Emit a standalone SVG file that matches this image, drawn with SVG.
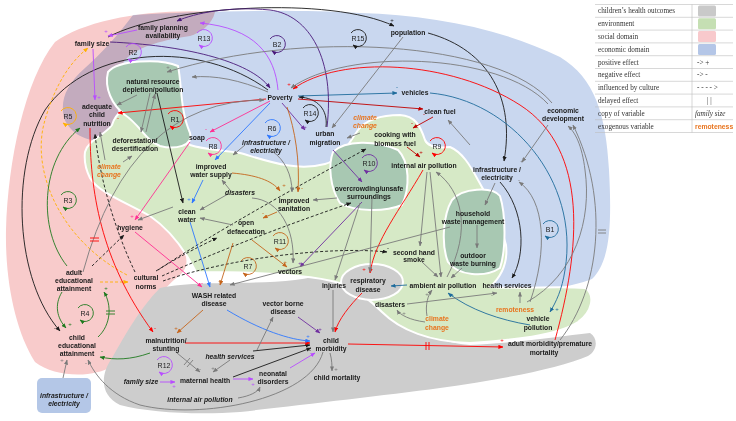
<svg xmlns="http://www.w3.org/2000/svg" width="736" height="421" viewBox="0 0 736 421">
<style>
.n{font-family:"Liberation Sans",Arial,sans-serif;font-size:6.8px;font-weight:bold;fill:#1a1a1a;text-anchor:middle}
.it{font-style:italic}
.or{fill:#e8741e}
.lp{font-family:"Liberation Sans",Arial,sans-serif;font-size:7px;fill:#222;text-anchor:middle}
.sg{font-family:"Liberation Sans",Arial,sans-serif;font-size:6px;text-anchor:middle}
.lg{font-family:"Liberation Serif","Times New Roman",serif;font-size:7.2px;fill:#333}
#connectors path,#loops path{fill:none;stroke-width:0.9}
.k{stroke:#1a1a1a;marker-end:url(#mk)}
.kd{stroke:#1a1a1a;stroke-dasharray:3 2;marker-end:url(#mk)}
.g{stroke:#7a7a7a;marker-end:url(#mg)}
.r{stroke:#ff0000;marker-end:url(#mr)}
.dr{stroke:#c00000;marker-end:url(#mdr)}
.m{stroke:#ff2f92;marker-end:url(#mm)}
.b{stroke:#2f78ff;marker-end:url(#mb)}
.t{stroke:#1f6c9c;marker-end:url(#mt)}
.p{stroke:#7030a0;marker-end:url(#mp)}
.dp{stroke:#4a1a7a;marker-end:url(#mdp)}
.v{stroke:#b84dff;marker-end:url(#mv)}
.ob{stroke:#c5651c;marker-end:url(#mob)}
.gn{stroke:#1f7a1f;marker-end:url(#mgn)}
.am{stroke:#ffb000;marker-end:url(#mam)}
.ad{stroke:#ffb000;stroke-dasharray:3 2;marker-end:url(#mam)}
.dl{marker-end:none!important}
.reg{stroke:#fff;stroke-width:2}
</style>
<defs>
<marker id="mk" viewBox="0 0 6 5" refX="5.5" refY="2.5" markerWidth="5" markerHeight="4.2" markerUnits="userSpaceOnUse" orient="auto"><path d="M0,0L6,2.5L0,5z" fill="#1a1a1a"/></marker>
<marker id="mg" viewBox="0 0 6 5" refX="5.5" refY="2.5" markerWidth="5" markerHeight="4.2" markerUnits="userSpaceOnUse" orient="auto"><path d="M0,0L6,2.5L0,5z" fill="#7a7a7a"/></marker>
<marker id="mr" viewBox="0 0 6 5" refX="5.5" refY="2.5" markerWidth="5" markerHeight="4.2" markerUnits="userSpaceOnUse" orient="auto"><path d="M0,0L6,2.5L0,5z" fill="#ff0000"/></marker>
<marker id="mdr" viewBox="0 0 6 5" refX="5.5" refY="2.5" markerWidth="5" markerHeight="4.2" markerUnits="userSpaceOnUse" orient="auto"><path d="M0,0L6,2.5L0,5z" fill="#c00000"/></marker>
<marker id="mm" viewBox="0 0 6 5" refX="5.5" refY="2.5" markerWidth="5" markerHeight="4.2" markerUnits="userSpaceOnUse" orient="auto"><path d="M0,0L6,2.5L0,5z" fill="#ff2f92"/></marker>
<marker id="mb" viewBox="0 0 6 5" refX="5.5" refY="2.5" markerWidth="5" markerHeight="4.2" markerUnits="userSpaceOnUse" orient="auto"><path d="M0,0L6,2.5L0,5z" fill="#2f78ff"/></marker>
<marker id="mt" viewBox="0 0 6 5" refX="5.5" refY="2.5" markerWidth="5" markerHeight="4.2" markerUnits="userSpaceOnUse" orient="auto"><path d="M0,0L6,2.5L0,5z" fill="#1f6c9c"/></marker>
<marker id="mp" viewBox="0 0 6 5" refX="5.5" refY="2.5" markerWidth="5" markerHeight="4.2" markerUnits="userSpaceOnUse" orient="auto"><path d="M0,0L6,2.5L0,5z" fill="#7030a0"/></marker>
<marker id="mdp" viewBox="0 0 6 5" refX="5.5" refY="2.5" markerWidth="5" markerHeight="4.2" markerUnits="userSpaceOnUse" orient="auto"><path d="M0,0L6,2.5L0,5z" fill="#4a1a7a"/></marker>
<marker id="mv" viewBox="0 0 6 5" refX="5.5" refY="2.5" markerWidth="5" markerHeight="4.2" markerUnits="userSpaceOnUse" orient="auto"><path d="M0,0L6,2.5L0,5z" fill="#b84dff"/></marker>
<marker id="mob" viewBox="0 0 6 5" refX="5.5" refY="2.5" markerWidth="5" markerHeight="4.2" markerUnits="userSpaceOnUse" orient="auto"><path d="M0,0L6,2.5L0,5z" fill="#c5651c"/></marker>
<marker id="mgn" viewBox="0 0 6 5" refX="5.5" refY="2.5" markerWidth="5" markerHeight="4.2" markerUnits="userSpaceOnUse" orient="auto"><path d="M0,0L6,2.5L0,5z" fill="#1f7a1f"/></marker>
<marker id="mam" viewBox="0 0 6 5" refX="5.5" refY="2.5" markerWidth="5" markerHeight="4.2" markerUnits="userSpaceOnUse" orient="auto"><path d="M0,0L6,2.5L0,5z" fill="#ffb000"/></marker>
</defs>
<rect width="736" height="421" fill="#fff"/>
<g id="regions">
<path id="social" fill="#f8cbcb" d="M55,42 C85,20 150,8 215,12 C212,25 200,33 190,36 C165,40 140,45 125,60 C117,72 118,95 118,110 C118,125 116,133 105,138 L160,220 C182,240 195,262 180,275 C160,290 140,320 112,366 C95,378 55,378 35,362 C15,330 5,280 6,230 C8,160 25,80 55,42 Z"/>
<path id="health" fill="#cdcdcd" d="M160,288 C195,280 255,285 295,280 C320,277 335,270 350,268 L380,300 C395,322 430,342 470,345 C520,343 560,336 590,333 C598,338 598,350 588,356 C560,368 500,380 440,388 C380,396 300,405 240,412 C200,415 150,413 120,405 C100,395 100,375 112,358 C125,335 140,308 160,288 Z"/>
<path id="economic" fill="#c9d7ef" style="mix-blend-mode:multiply" d="M133,15 C200,11 290,9 360,13 C430,15 500,28 560,57 C595,78 606,115 609,170 C612,225 610,262 592,279 C560,292 500,294 470,291 L470,250 L420,165 L340,178 L200,162 L120,140 C95,145 72,138 64,118 C60,100 66,85 85,68 C100,55 118,35 133,15 Z"/>
<path id="environment" class="reg" fill="#d6e9c6" d="M85,152 C88,140 105,135 112,125 C116,112 125,106 145,108 C165,110 175,125 190,145 C205,150 225,150 240,153 C265,160 295,172 325,164 C340,160 348,145 358,130 C366,120 380,115 400,115 C415,116 420,125 425,140 C428,147 440,148 450,147 C462,152 470,165 478,180 C490,200 500,220 506,245 C508,262 503,275 490,287 C520,289 560,286 585,288 C596,295 592,312 578,322 C560,334 520,340 470,343 C430,342 400,330 382,312 C370,300 360,292 345,285 C320,275 260,272 196,272 C185,250 170,230 150,216 C125,202 98,192 90,178 C85,168 84,160 85,152 Z"/>
<path class="reg" fill="#a8c8b2" d="M108,72 C118,60 160,58 178,66 C182,85 180,110 190,133 C194,146 175,150 160,146 C145,140 140,125 125,115 C112,105 104,88 108,72 Z"/>
<path class="reg" fill="#a8c8b2" d="M333,152 C345,140 375,140 398,150 C410,162 410,188 402,205 C385,212 355,212 340,203 C330,188 328,165 333,152 Z"/>
<path class="reg" fill="#a8c8b2" d="M452,200 C462,188 492,186 500,196 C506,215 506,250 500,268 C485,278 458,276 448,262 C441,245 443,215 452,200 Z"/>
<ellipse class="reg" fill="#cdcdcd" cx="372" cy="282" rx="31" ry="18"/>
<rect id="infra_box" x="37" y="378" width="54" height="35" rx="5" fill="#b4c7e7"/>
</g>
<g id="connectors">
<path class="k" d="M108,37 C170,5 330,-4 394,26"/>
<path class="k" d="M428,33 C490,50 515,100 504,161"/>
<path class="k" d="M268,90 C200,40 90,45 45,110 C10,170 15,280 60,331"/>
<path class="k" d="M326,127 C328,110 318,98 299,97"/>
<path class="k" d="M157,93 L183,203"/>
<path class="k" d="M500,182 C525,210 526,255 512,278"/>
<path class="k" d="M253,351 L310,345"/>
<path class="k" d="M233,377 L311,348"/>
<path class="kd" d="M135,272 C115,230 100,180 95,134"/>
<path class="kd" d="M92,266 L124,235"/>
<path class="kd" d="M158,270 C210,235 300,185 366,149"/>
<path class="kd" d="M162,276 C220,250 300,220 351,203"/>
<path class="kd" d="M163,281 C230,258 330,246 387,252"/>
<path class="kd" d="M156,271 C180,256 200,246 217,238"/>
<path class="ad" d="M100,282 L128,282"/>
<path class="ad" d="M127,275 C60,240 30,170 45,120 C55,85 70,62 88,48"/>
<path class="gn" d="M67,266 C38,230 40,160 80,128"/>
<path class="gn" d="M62,292 C54,305 57,318 66,328"/>
<path class="gn" d="M98,337 C111,325 112,305 104,292"/>
<path class="gn" d="M150,353 C130,360 115,360 100,357"/>
<path class="r" d="M266,99 L118,113"/>
<path class="r" d="M90,128 C90,190 100,260 153,332"/>
<path class="r" d="M185,343 L310,343"/>
<path class="r" d="M348,344 L503,347"/>
<path class="r" d="M555,340 C580,250 590,150 520,105 C450,60 340,55 293,89"/>
<path class="r" d="M423,170 C400,210 375,240 370,273"/>
<path class="r" d="M362,293 C350,305 338,320 335,332"/>
<path class="dr" d="M298,99 L423,109"/>
<path class="dr" d="M433,117 L413,128"/>
<path class="dr" d="M407,147 L420,157"/>
<path class="m" d="M270,101 L210,132"/>
<path class="m" d="M190,142 L135,220"/>
<path class="m" d="M135,232 L202,287"/>
<path class="b" d="M270,103 L215,160"/>
<path class="b" d="M203,180 L192,203"/>
<path class="b" d="M190,222 L210,287"/>
<path class="b" d="M227,310 C260,330 290,340 310,341"/>
<path class="t" d="M298,96 L397,93"/>
<path class="t" d="M430,93 C510,100 580,180 565,270 C562,290 556,302 550,312"/>
<path class="t" d="M530,325 C500,320 470,310 448,293"/>
<path class="t" d="M407,285 L391,286"/>
<path class="p" d="M282,103 L305,130"/>
<path class="p" d="M333,150 L362,182"/>
<path class="p" d="M362,202 L300,267"/>
<path class="p" d="M298,317 L320,333"/>
<path class="dp" d="M327,127 C335,60 310,15 270,10 C230,6 195,13 177,21"/>
<path class="dp" d="M110,42 C180,45 250,60 270,88"/>
<path class="v" d="M137,30 L108,36"/>
<path class="v" d="M93,49 L95,100"/>
<path class="v" d="M278,90 C275,55 255,28 200,23"/>
<path class="v" d="M233,379 L253,379"/>
<path class="v" d="M290,368 L315,353"/>
<path class="v" d="M160,382 L175,382"/>
<path class="ob" d="M287,107 C295,130 300,160 298,192"/>
<path class="ob" d="M232,173 C255,175 272,180 280,191"/>
<path class="ob" d="M277,212 L263,218"/>
<path class="ob" d="M252,240 L287,267"/>
<path class="ob" d="M233,243 L220,285"/>
<path class="ob" d="M203,310 L177,333"/>
<path class="g" d="M403,37 L332,128"/>
<path class="g" d="M268,92 C240,80 215,75 192,77"/>
<path class="g" d="M552,103 C500,40 300,30 167,72"/>
<path class="g" d="M548,104 C500,52 345,48 291,88"/>
<path class="g" d="M137,95 L117,105"/>
<path class="g" d="M150,93 L141,132"/>
<path class="g" d="M146,132 L155,94"/>
<path class="g" d="M123,162 L132,156"/>
<path class="g" d="M83,272 Q130,100 264,100"/>
<path class="g" d="M173,207 L138,220"/>
<path class="g" d="M245,145 L233,155"/>
<path class="g" d="M272,151 C285,160 292,175 292,192"/>
<path class="g" d="M230,190 L222,180"/>
<path class="g" d="M228,194 L200,210"/>
<path class="g" d="M252,198 C280,200 295,230 293,263"/>
<path class="g" d="M337,198 L313,200"/>
<path class="g" d="M450,227 L230,285"/>
<path class="g" d="M372,197 L370,272"/>
<path class="g" d="M360,203 L335,280"/>
<path class="g" d="M427,172 L420,246"/>
<path class="g" d="M422,262 L438,277"/>
<path class="g" d="M430,172 L441,277"/>
<path class="g" d="M447,277 C472,230 462,190 436,172"/>
<path class="g" d="M477,225 L477,248"/>
<path class="g" d="M462,268 L451,278"/>
<path class="g" d="M495,183 L485,205"/>
<path class="g" d="M548,125 L522,162"/>
<path class="g" d="M530,302 C548,250 545,200 519,182"/>
<path class="g" d="M527,302 C575,275 592,220 585,170 C582,145 575,132 568,126"/>
<path class="g" d="M560,340 C600,290 610,200 573,125"/>
<path class="g" d="M520,303 L520,292"/>
<path class="g" d="M407,304 L497,293"/>
<path class="g" d="M425,322 C410,320 400,315 397,310"/>
<path class="g" d="M427,316 C425,305 428,295 432,290"/>
<path class="g" d="M333,290 L333,332"/>
<path class="g" d="M330,353 C332,360 332,366 332,371"/>
<path class="g" d="M257,350 L273,317"/>
<path class="g" d="M230,360 L213,372"/>
<path class="g" d="M177,353 L200,372"/>
<path class="g" d="M238,398 C250,396 258,392 260,387"/>
<path class="g" d="M323,352 C310,400 200,420 140,405 C110,395 95,375 88,360"/>
<path class="g" d="M63,378 L67,360"/>
<path class="g" d="M470,145 L448,120"/>
<path class="g" d="M360,133 L347,138"/>
<path class="g" d="M105,160 L100,132"/>
<path class="g" d="M233,225 L200,218"/>
<path class="r dl" d="M426,342 V350 M429,342 V350"/>
<path class="r dl" d="M90,238 H99 M90,241 H99"/>
<path class="gn dl" d="M106,311 H115 M106,314 H115"/>
<path class="g dl" d="M598,230 H606 M598,233 H606"/>
<path class="g dl" d="M184,365 L190,358 M187,367 L193,360"/>
</g>
<g id="loops">
<path class="v" d="M126,47 A8.5,8.5 0 1,1 128,59"/><text class="lp" x="133" y="54.5">R2</text>
<path class="v" d="M197,33 A8.5,8.5 0 1,1 199,45"/><text class="lp" x="204" y="40.5">R13</text>
<path class="dp" d="M270,39 A8.5,8.5 0 1,1 272,51"/><text class="lp" x="277" y="46.5">B2</text>
<path class="k" d="M351,33 A8.5,8.5 0 1,1 353,45"/><text class="lp" x="358" y="40.5">R15</text>
<path class="am" d="M61,111 A8.5,8.5 0 1,1 63,123"/><text class="lp" x="68" y="118.5">R5</text>
<path class="r" d="M168,114 A8.5,8.5 0 1,1 170,126"/><text class="lp" x="175" y="121.5">R1</text>
<path class="k" d="M303,108 A8.5,8.5 0 1,1 305,120"/><text class="lp" x="310" y="115.5">R14</text>
<path class="b" d="M265,123 A8.5,8.5 0 1,1 267,135"/><text class="lp" x="272" y="130.5">R6</text>
<path class="m" d="M206,141 A8.5,8.5 0 1,1 208,153"/><text class="lp" x="213" y="148.5">R8</text>
<path class="p" d="M362,158 A8.5,8.5 0 1,1 364,170"/><text class="lp" x="369" y="165.5">R10</text>
<path class="r" d="M430,141 A8.5,8.5 0 1,1 432,153"/><text class="lp" x="437" y="148.5">R9</text>
<path class="gn" d="M61,195 A8.5,8.5 0 1,1 63,207"/><text class="lp" x="68" y="202.5">R3</text>
<path class="ob" d="M273,236 A8.5,8.5 0 1,1 275,248"/><text class="lp" x="280" y="243.5">R11</text>
<path class="ob" d="M241,261 A8.5,8.5 0 1,1 243,273"/><text class="lp" x="248" y="268.5">R7</text>
<path class="t" d="M543,224 A8.5,8.5 0 1,1 545,236"/><text class="lp" x="550" y="231.5">B1</text>
<path class="gn" d="M78,308 A8.5,8.5 0 1,1 80,320"/><text class="lp" x="85" y="315.5">R4</text>
<path class="v" d="M157,360 A8.5,8.5 0 1,1 159,372"/><text class="lp" x="164" y="367.5">R12</text>
</g>
<g id="nodes">
<g id="family_size"><text class="n" x="92" y="45.5">family size</text></g>
<g id="family_planning"><text class="n" x="163" y="29.5">family planning</text><text class="n" x="163" y="37.5">availability</text></g>
<g id="natural_resource"><text class="n" x="153" y="83.5">natural resource</text><text class="n" x="153" y="91.5">depletion/pollution</text></g>
<g id="adequate_nutrition"><text class="n" x="97" y="108.5">adequate</text><text class="n" x="97" y="116.5">child</text><text class="n" x="97" y="125.5">nutrition</text></g>
<g id="deforestation"><text class="n" x="135" y="142.5">deforestation/</text><text class="n" x="135" y="150.5">desertification</text></g>
<g id="climate_left"><text class="n it or" x="109" y="168.5">climate</text><text class="n it or" x="109" y="176.5">change</text></g>
<g id="poverty"><text class="n" x="280" y="99.5">Poverty</text></g>
<g id="population"><text class="n" x="408" y="34.5">population</text></g>
<g id="vehicles"><text class="n" x="415" y="94.5">vehicles</text></g>
<g id="clean_fuel"><text class="n" x="440" y="113.5">clean fuel</text></g>
<g id="economic_development"><text class="n" x="563" y="112.5">economic</text><text class="n" x="563" y="120.5">development</text></g>
<g id="soap"><text class="n" x="197" y="139.5">soap</text></g>
<g id="infra_mid"><text class="n it" x="266" y="144.5">infrastructure /</text><text class="n it" x="266" y="152.5">electricity</text></g>
<g id="urban_migration"><text class="n" x="325" y="135.5">urban</text><text class="n" x="325" y="144.5">migration</text></g>
<g id="climate_mid"><text class="n it or" x="365" y="119.5">climate</text><text class="n it or" x="365" y="127.5">change</text></g>
<g id="cooking"><text class="n" x="395" y="136.5">cooking with</text><text class="n" x="395" y="145.5">biomass fuel</text></g>
<g id="improved_water"><text class="n" x="211" y="168.5">improved</text><text class="n" x="211" y="176.5">water supply</text></g>
<g id="internal_air"><text class="n" x="424" y="167.5">internal air pollution</text></g>
<g id="overcrowding"><text class="n" x="369" y="190.5">overcrowding/unsafe</text><text class="n" x="369" y="198.5">surroundings</text></g>
<g id="disasters_mid"><text class="n it" x="240" y="194.5">disasters</text></g>
<g id="improved_sanitation"><text class="n" x="294" y="202.5">improved</text><text class="n" x="294" y="210.5">sanitation</text></g>
<g id="clean_water"><text class="n" x="187" y="213.5">clean</text><text class="n" x="187" y="221.5">water</text></g>
<g id="hygiene"><text class="n" x="130" y="229.5">hygiene</text></g>
<g id="open_defaecation"><text class="n" x="246" y="224.5">open</text><text class="n" x="246" y="233.5">defaecation</text></g>
<g id="infra_right"><text class="n" x="497" y="171.5">infrastructure /</text><text class="n" x="497" y="179.5">electricity</text></g>
<g id="household_waste"><text class="n" x="473" y="215.5">household</text><text class="n" x="473" y="223.5">waste management</text></g>
<g id="second_hand_smoke"><text class="n" x="414" y="254.5">second hand</text><text class="n" x="414" y="261.5">smoke</text></g>
<g id="outdoor_burning"><text class="n" x="473" y="257.5">outdoor</text><text class="n" x="473" y="265.5">waste burning</text></g>
<g id="vectors"><text class="n" x="290" y="273.5">vectors</text></g>
<g id="cultural_norms"><text class="n" x="146" y="279.5">cultural</text><text class="n" x="146" y="288.5">norms</text></g>
<g id="adult_education"><text class="n" x="74" y="274.5">adult</text><text class="n" x="74" y="282.5">educational</text><text class="n" x="74" y="290.5">attainment</text></g>
<g id="child_education"><text class="n" x="77" y="339.5">child</text><text class="n" x="77" y="347.5">educational</text><text class="n" x="77" y="355.5">attainment</text></g>
<g id="infra_bottom"><text class="n it" x="64" y="397.5">infrastructure /</text><text class="n it" x="64" y="405.5">electricity</text></g>
<g id="malnutrition"><text class="n" x="166" y="342.5">malnutrition/</text><text class="n" x="166" y="350.5">stunting</text></g>
<g id="family_size_copy"><text class="n it" x="141" y="383.5">family size</text></g>
<g id="maternal_health"><text class="n" x="205" y="382.5">maternal health</text></g>
<g id="internal_air_copy"><text class="n it" x="200" y="401.5">internal air pollution</text></g>
<g id="health_services_copy"><text class="n it" x="230" y="358.5">health services</text></g>
<g id="wash"><text class="n" x="214" y="297.5">WASH related</text><text class="n" x="214" y="305.5">disease</text></g>
<g id="vector_borne"><text class="n" x="283" y="305.5">vector borne</text><text class="n" x="283" y="313.5">disease</text></g>
<g id="injuries"><text class="n" x="334" y="287.5">injuries</text></g>
<g id="respiratory"><text class="n" x="368" y="282.5">respiratory</text><text class="n" x="368" y="291.5">disease</text></g>
<g id="ambient_air"><text class="n" x="443" y="287.5">ambient air pollution</text></g>
<g id="health_services"><text class="n" x="507" y="287.5">health services</text></g>
<g id="disasters"><text class="n" x="390" y="306.5">disasters</text></g>
<g id="climate_bottom"><text class="n or" x="437" y="320.5">climate</text><text class="n or" x="437" y="329.5">change</text></g>
<g id="remoteness"><text class="n or" x="515" y="311.5">remoteness</text></g>
<g id="vehicle_pollution"><text class="n" x="538" y="320.5">vehicle</text><text class="n" x="538" y="329.5">pollution</text></g>
<g id="child_morbidity"><text class="n" x="331" y="342.5">child</text><text class="n" x="331" y="350.5">morbidity</text></g>
<g id="child_mortality"><text class="n" x="337" y="379.5">child mortality</text></g>
<g id="neonatal"><text class="n" x="273" y="375.5">neonatal</text><text class="n" x="273" y="383.5">disorders</text></g>
<g id="adult_morbidity"><text class="n" x="550" y="345.5">adult morbidity/premature</text><text class="n" x="544" y="354.5">mortality</text></g>
</g>
<g id="signs">
<text class="sg" x="392" y="22" fill="#1a1a1a">+</text>
<text class="sg" x="106" y="33" fill="#b84dff">+</text>
<text class="sg" x="99" y="99" fill="#b84dff">+</text>
<text class="sg" x="178" y="17" fill="#4a1a7a">-</text>
<text class="sg" x="168" y="69" fill="#7a7a7a">+</text>
<text class="sg" x="118" y="120" fill="#ff0000">-</text>
<text class="sg" x="289" y="86" fill="#ff0000">+</text>
<text class="sg" x="424" y="116" fill="#c00000">-</text>
<text class="sg" x="412" y="125" fill="#c00000">-</text>
<text class="sg" x="421" y="154" fill="#c00000">+</text>
<text class="sg" x="397" y="89" fill="#1f6c9c">-</text>
<text class="sg" x="55" y="330" fill="#1a1a1a">-</text>
<text class="sg" x="62" y="362" fill="#7a7a7a">+</text>
<text class="sg" x="86" y="365" fill="#7a7a7a">-</text>
<text class="sg" x="102" y="353" fill="#1f7a1f">-</text>
<text class="sg" x="106" y="290" fill="#1f7a1f">+</text>
<text class="sg" x="70" y="326" fill="#1f7a1f">+</text>
<text class="sg" x="155" y="330" fill="#ff0000">-</text>
<text class="sg" x="176" y="330" fill="#c5651c">+</text>
<text class="sg" x="132" y="218" fill="#ff2f92">+</text>
<text class="sg" x="206" y="131" fill="#ff2f92">-</text>
<text class="sg" x="219" y="158" fill="#2f78ff">-</text>
<text class="sg" x="189" y="201" fill="#2f78ff">+</text>
<text class="sg" x="284" y="187" fill="#c5651c">+</text>
<text class="sg" x="302" y="190" fill="#c5651c">-</text>
<text class="sg" x="263" y="215" fill="#c5651c">-</text>
<text class="sg" x="285" y="264" fill="#c5651c">+</text>
<text class="sg" x="202" y="285" fill="#ff2f92">-</text>
<text class="sg" x="220" y="283" fill="#c5651c">+</text>
<text class="sg" x="308" y="338" fill="#2f78ff">+</text>
<text class="sg" x="310" y="352" fill="#1a1a1a">-</text>
<text class="sg" x="200" y="371" fill="#7a7a7a">-</text>
<text class="sg" x="213" y="370" fill="#7a7a7a">+</text>
<text class="sg" x="253" y="386" fill="#b84dff">+</text>
<text class="sg" x="174" y="388" fill="#b84dff">+</text>
<text class="sg" x="336" y="371" fill="#7a7a7a">+</text>
<text class="sg" x="502" y="342" fill="#ff0000">+</text>
<text class="sg" x="492" y="297" fill="#7a7a7a">-</text>
<text class="sg" x="504" y="159" fill="#1a1a1a">+</text>
<text class="sg" x="388" y="250" fill="#1a1a1a">-</text>
<text class="sg" x="360" y="181" fill="#7030a0">+</text>
<text class="sg" x="305" y="129" fill="#7030a0">+</text>
<text class="sg" x="320" y="331" fill="#7030a0">+</text>
<text class="sg" x="300" y="265" fill="#7030a0">+</text>
<text class="sg" x="557" y="311" fill="#1f6c9c">+</text>
<text class="sg" x="452" y="297" fill="#1f6c9c">+</text>
<text class="sg" x="364" y="271" fill="#ff0000">+</text>
<text class="sg" x="427" y="296" fill="#7a7a7a">+</text>
<text class="sg" x="404" y="315" fill="#7a7a7a">+</text>
<text class="sg" x="519" y="182" fill="#7a7a7a">-</text>
<text class="sg" x="522" y="163" fill="#7a7a7a">+</text>
</g>
<g id="legend">
<g stroke="#bdbdbd" stroke-width="0.6">
<path d="M595,4.5H733M595,17.3H733M595,30.1H733M595,42.9H733M595,55.7H733M595,68.5H733M595,81.3H733M595,94.1H733M595,106.9H733M595,119.7H733M595,132.5H733M692,4.5V132.5"/>
</g>
<rect x="698" y="5.5" width="18" height="11" rx="1.5" fill="#c9c9c9"/>
<rect x="698" y="18.3" width="18" height="11" rx="1.5" fill="#c5dfb3"/>
<rect x="698" y="31.1" width="18" height="11" rx="1.5" fill="#f8c9cc"/>
<rect x="698" y="43.9" width="18" height="11" rx="1.5" fill="#b4c6e7"/>
<text class="lg" x="598" y="13.3">children’s health outcomes</text>
<text class="lg" x="598" y="26.1">environment</text>
<text class="lg" x="598" y="38.9">social domain</text>
<text class="lg" x="598" y="51.7">economic domain</text>
<text class="lg" x="598" y="64.5">positive effect</text>
<text class="lg" x="598" y="77.3">negative effect</text>
<text class="lg" x="598" y="90.1">influenced by culture</text>
<text class="lg" x="598" y="102.9">delayed effect</text>
<text class="lg" x="598" y="115.7">copy of variable</text>
<text class="lg" x="598" y="128.5">exogenous variable</text>
<text class="lg" x="697" y="64.5" fill="#111">-&gt; +</text>
<text class="lg" x="697" y="77.3" fill="#111">-&gt;   -</text>
<text class="lg" x="697" y="90.1" fill="#111">- - - - &gt;</text>
<text class="lg" x="707" y="102.9" fill="#111">| |</text>
<text class="lg" x="695" y="115.7" fill="#111" font-style="italic">family size</text>
<text x="695" y="128.5" font-family="Liberation Sans,Arial,sans-serif" font-size="6.8" font-weight="bold" fill="#e8741e">remoteness</text>
</g>
</svg>
